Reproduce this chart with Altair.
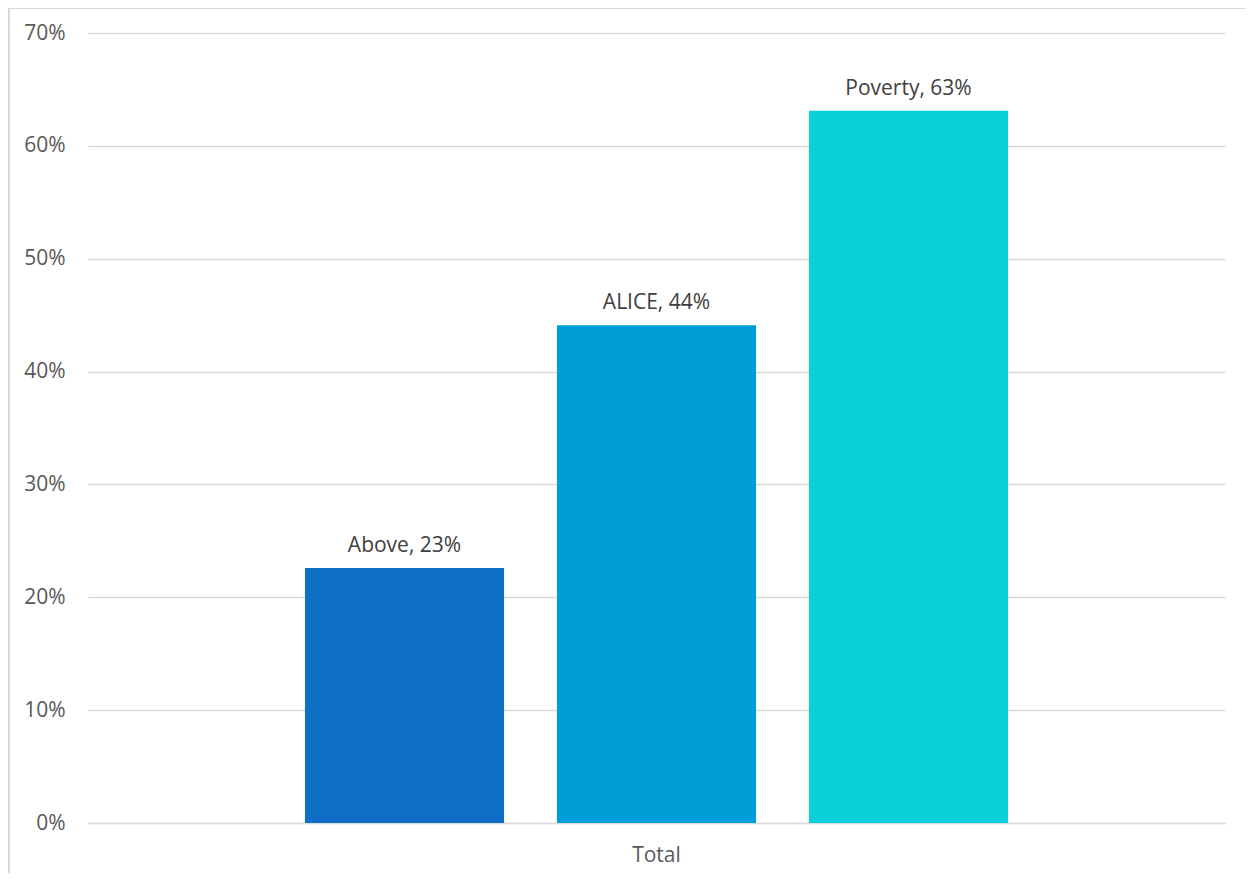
import altair as alt
import pandas as pd

categories = ["Above", "ALICE", "Poverty"]
values = [0.226, 0.441, 0.631]
group = ["Total", "Total", "Total"]
colors = ["#0F6FC6", "#009DD9", "#0BD0D9"]
y_ticks = [0, 0.1, 0.2, 0.3, 0.4, 0.5, 0.6, 0.7]

df = pd.DataFrame({"group": group, "cat": categories, "value": values})

FONT = "Open Sans"
FS = 21

base = alt.Chart(df).transform_calculate(
    label="datum.cat + ', ' + format(datum.value, '.0%')"
)

x = alt.X("group:N", title=None,
          scale=alt.Scale(paddingInner=0, paddingOuter=0.252),
          axis=alt.Axis(labelAngle=0, ticks=False, grid=False, domainColor="#D9D9D9",
                        domainWidth=1.5, labelPadding=21, labelFontSize=FS,
                        labelColor="#595959", labelFont=FONT))
xo = alt.XOffset("cat:N", sort=categories,
                 scale=alt.Scale(paddingInner=0.21, paddingOuter=0.105))
y = alt.Y("value:Q", title=None,
          scale=alt.Scale(domain=[0, 0.7], nice=False),
          axis=alt.Axis(values=y_ticks, format=".0%", domain=False, ticks=False,
                        gridColor="#D9D9D9", gridWidth=1.5, labelPadding=23,
                        labelFontSize=FS, labelColor="#595959", labelFont=FONT,
                        minExtent=80, maxExtent=80))

bars = base.mark_bar().encode(
    x=x, xOffset=xo, y=y,
    color=alt.Color("cat:N", sort=categories,
                    scale=alt.Scale(domain=categories, range=colors), legend=None),
)

labels = base.mark_text(baseline="bottom", dy=-12, fontSize=FS, font=FONT,
                        color="#404040").encode(
    x=x, xOffset=xo, y=y, text="label:N"
)

frame_left = alt.Chart(df).mark_rule(color="#D9D9D9", strokeWidth=2, clip=False).encode(
    x=alt.value(-79), y=alt.value(-25), y2=alt.value(900)
)
frame_top = alt.Chart(df).mark_rule(color="#D9D9D9", strokeWidth=2, clip=False).encode(
    x=alt.value(-79), x2=alt.value(1300), y=alt.value(-25)
)

chart = alt.layer(bars, labels, frame_left, frame_top).properties(
    width=1137, height=790,
    background="white",
    autosize=alt.AutoSizeParams(type="none"),
    padding={"left": 80, "top": 25, "right": 20, "bottom": 50},
).configure_view(stroke=None).configure_axisX(grid=False)

chart.save("out.html", embed_options={"renderer": "svg", "actions": False})
